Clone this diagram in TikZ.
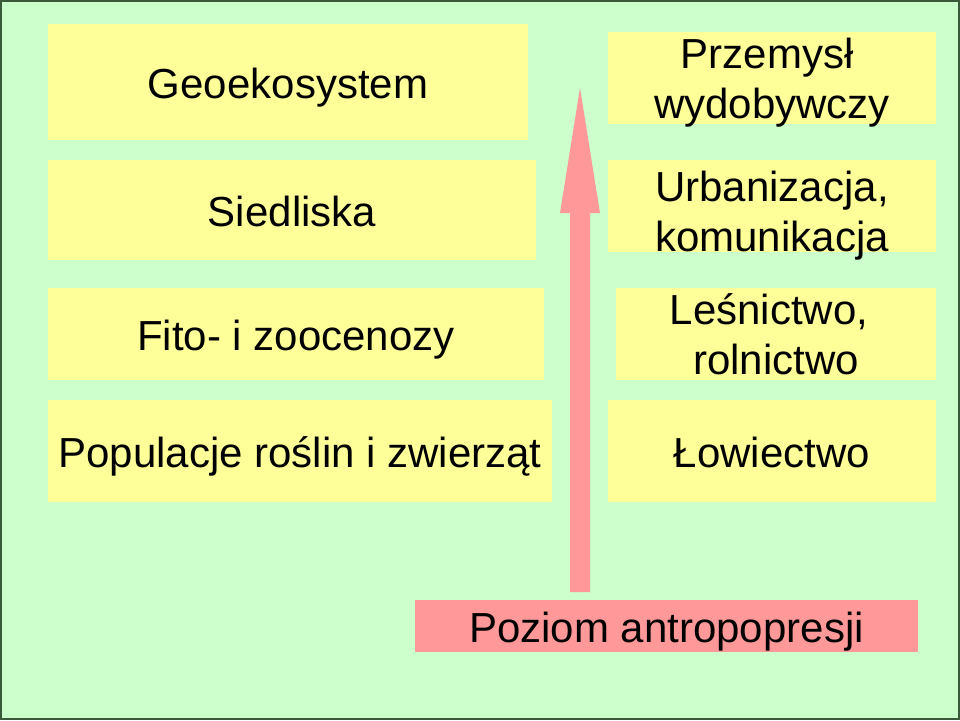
\documentclass[tikz,border=0pt]{standalone}
\usepackage{fontspec}
\setmainfont{Liberation Sans}
\definecolor{bggreen}{HTML}{CCFFCC}
\definecolor{boxyellow}{HTML}{FFFF99}
\definecolor{arrowpink}{HTML}{FF9999}
\definecolor{framegreen}{HTML}{3A5A3A}
\begin{document}
\begin{tikzpicture}[x=1pt,y=-1pt,
  txt/.style={inner sep=0pt, align=center, font=\fontsize{42}{50}\selectfont},
  one/.style={text height=40pt, text depth=8pt},
  two/.style={text height=81pt, text depth=0pt},
  lbox/.style={txt, fill=boxyellow},
  pbox/.style={txt, fill=arrowpink}]
\useasboundingbox (0,0) rectangle (960,720);
\fill[bggreen] (0,0) rectangle (960,720);
\draw[framegreen, line width=2pt] (1,1) rectangle (959,719);
% left column
\node[lbox, one, minimum width=480pt, minimum height=116pt] (geo) at (288,82) {Geoekosystem};
\node[lbox, one, minimum width=488pt, minimum height=100pt] (sied) at (292,210) {Siedliska};
\node[lbox, one, minimum width=496pt, minimum height=92pt] (fito) at (296,334) {Fito- i zoocenozy};
\node[lbox, one, minimum width=504pt, minimum height=102pt] (pop) at (300,451) {Populacje roślin i zwierząt};
% right column
\node[lbox, two, minimum width=328pt, minimum height=92pt] (prz) at (772,78) {Przemysł\hspace*{10pt}\\wydobywczy};
\node[lbox, two, text height=91pt, minimum width=328pt, minimum height=92pt] (urb) at (772,206) {Urbanizacja,\\komunikacja};
\node[lbox, two, minimum width=320pt, minimum height=92pt] (les) at (776,334) {Leśnictwo,\hspace*{14pt}\\rolnictwo};
\node[lbox, one, minimum width=328pt, minimum height=102pt] (low) at (772,451) {Łowiectwo};
% bottom
\node[pbox, one, minimum width=503pt, minimum height=52pt] (poz) at (666.5,626) {Poziom antropopresji};
% arrow
\coordinate (abase) at (580,592);
\coordinate (atip) at (580,88);
\fill[arrowpink] (570,592) -- (590,592) -- (590,213) -- (600,213) -- (atip) -- (560,213) -- (570,213) -- cycle;
\end{tikzpicture}
\end{document}
